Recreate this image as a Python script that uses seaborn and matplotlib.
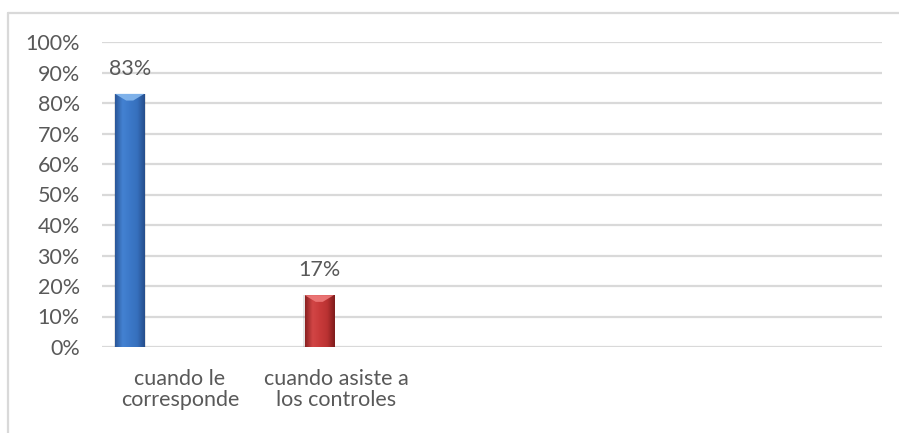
import numpy as np
import pandas as pd
import matplotlib
matplotlib.use("Agg")
import matplotlib.pyplot as plt
import seaborn as sns
from matplotlib.lines import Line2D
from matplotlib.patches import Polygon
from matplotlib.ticker import PercentFormatter, MultipleLocator

# Categories on the x axis (the last three slots are left empty)
categories = ["cuando le\ncorresponde", "cuando asiste a\nlos controles", "", " ", "  "]
# Series shown in the clustered layout
series = ["Serie1", "Serie2", "Serie3", "Serie4"]
# Values: each category carries one series
bar_category = ["cuando le\ncorresponde", "cuando asiste a\nlos controles"]
bar_series = ["Serie1", "Serie2"]
bar_values = [0.83, 0.17]
value_labels = ["83%", "17%"]

df = pd.DataFrame({"categoria": bar_category, "serie": bar_series, "valor": bar_values})

sns.set_theme(style="white")
plt.rcParams["font.family"] = ["Lato", "DejaVu Sans"]
text_color = "#595959"
grid_color = "#D9D9D9"
fs = 15.5

fig = plt.figure(figsize=(8.99, 4.33), dpi=100)
ax = fig.add_axes([102 / 899, 1 - 347 / 433, 780 / 899, 305 / 433])

sns.barplot(data=df, x="categoria", y="valor", hue="serie", order=categories,
            hue_order=series, width=0.86, gap=0.13, dodge=True, legend=False,
            palette=["#3A74C2", "#C33535", "#999999", "#999999"], ax=ax)

ax.set_ylim(0, 1)
ax.set_xlim(-0.5, len(categories) - 0.5)
ax.yaxis.set_major_locator(MultipleLocator(0.1))
ax.yaxis.set_major_formatter(PercentFormatter(1.0, decimals=0))
ax.set_xlabel("")
ax.set_ylabel("")
for s in ax.spines.values():
    s.set_visible(False)
ax.grid(axis="y", color=grid_color, linewidth=1.6)
ax.set_axisbelow(True)
ax.axhline(0, color=grid_color, linewidth=2.0, zorder=1)
ax.tick_params(axis="y", length=0, pad=16, labelsize=fs, labelcolor=text_color)
ax.tick_params(axis="x", length=0, pad=16, labelsize=fs, labelcolor=text_color)
for t in ax.get_xticklabels():
    t.set_linespacing(1.05)

# Shaded column fills with a light bevel at the top
gradients = {
    "Serie1": ["#2A5698", "#4482D2", "#3C78C8", "#3670BD", "#264E8C"],
    "Serie2": ["#8A2020", "#D24646", "#C83A3A", "#BA3232", "#7E1C1C"],
}
bevels = {"Serie1": "#86B8EE", "Serie2": "#EE7A7A"}

bars = [p for p in ax.patches if p.get_height() > 0]
bars.sort(key=lambda p: p.get_x())
for patch, key, val, lab in zip(bars, bar_series, bar_values, value_labels):
    x0 = patch.get_x()
    w = patch.get_width()
    h = patch.get_height()
    cmap = matplotlib.colors.LinearSegmentedColormap.from_list(
        "g", gradients[key])
    grad = np.linspace(0, 1, 64).reshape(1, -1)
    # soft shadow
    ax.add_patch(matplotlib.patches.Rectangle((x0 - 0.01, -0.006), w + 0.02, h + 0.006,
                                              facecolor="#000000", alpha=0.10,
                                              edgecolor="none", zorder=2))
    im = ax.imshow(grad, extent=[x0, x0 + w, 0, h], aspect="auto", cmap=cmap,
                   zorder=3, interpolation="bicubic")
    im.set_clip_path(patch)
    patch.set_facecolor("none")
    patch.set_edgecolor("none")
    patch.set_zorder(4)
    bev_h = 0.022
    ax.add_patch(Polygon([[x0, h], [x0 + w, h], [x0 + w * 0.62, h - bev_h],
                          [x0 + w * 0.38, h - bev_h]],
                         closed=True, facecolor=bevels[key], edgecolor="none",
                         alpha=0.9, zorder=5))
    ax.annotate(lab, (x0 + w / 2, h), xytext=(0, 11), textcoords="offset points",
                ha="center", va="bottom", fontsize=fs, color=text_color)

ax.set_xlim(-0.5, len(categories) - 0.5)
ax.set_ylim(0, 1)

# Chart frame (top and left edges visible)
fig.add_artist(Line2D([8 / 899, 8 / 899], [1 - 13 / 433, 0], transform=fig.transFigure,
                      color=grid_color, linewidth=1.6))
fig.add_artist(Line2D([8 / 899, 1], [1 - 13 / 433, 1 - 13 / 433], transform=fig.transFigure,
                      color=grid_color, linewidth=1.6))

fig.savefig("out.png", dpi=100, facecolor="white")
